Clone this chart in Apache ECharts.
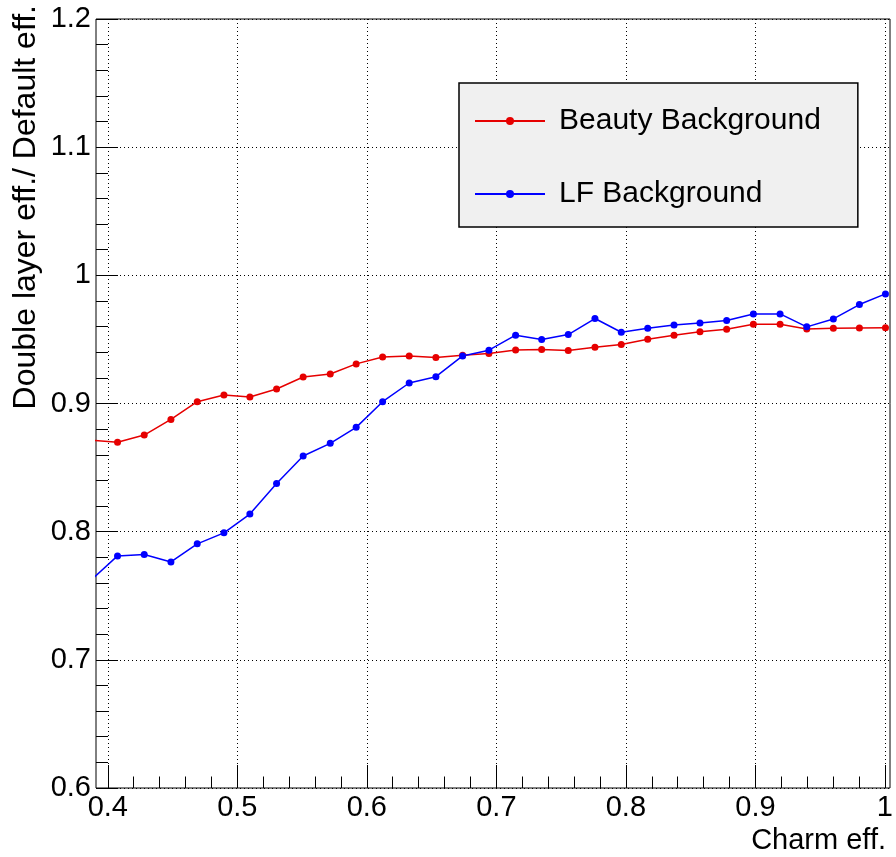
<!DOCTYPE html>
<html>
<head>
<meta charset="utf-8">
<title>Double layer efficiency ratio</title>
<script src="https://cdn.jsdelivr.net/npm/echarts@6/dist/echarts.min.js"></script>
<style>
  html, body { margin: 0; padding: 0; background: #fff; }
  #chart { width: 896px; height: 857px; }
</style>
</head>
<body>
<div id="chart"></div>
<script>
// Charm efficiency working points (first point lies just left of the frame)
const charmEff = [0.3870, 0.4076, 0.4282, 0.4488, 0.4691, 0.4897, 0.5097, 0.5303, 0.5508, 0.5717,
  0.5917, 0.6121, 0.6326, 0.6532, 0.6738, 0.6941, 0.7147, 0.7348, 0.7553, 0.7759,
  0.7962, 0.8166, 0.8369, 0.8569, 0.8775, 0.8981, 0.9187, 0.9393, 0.9598, 0.9799, 1.0000];

// Ratio of double-layer to default efficiency, beauty background
const beautyRatio = [0.8713, 0.8697, 0.8754, 0.8876, 0.9014, 0.9066, 0.9051, 0.9113, 0.9207, 0.9230,
  0.9309, 0.9363, 0.9371, 0.9358, 0.9377, 0.9390, 0.9418, 0.9421, 0.9413, 0.9439,
  0.9460, 0.9502, 0.9533, 0.9559, 0.9580, 0.9619, 0.9619, 0.9582, 0.9587, 0.9590, 0.9592];

// Ratio of double-layer to default efficiency, light-flavour background
const lfRatio = [0.7620, 0.7811, 0.7822, 0.7764, 0.7905, 0.7991, 0.8137, 0.8376, 0.8590, 0.8689,
  0.8814, 0.9014, 0.9160, 0.9209, 0.9371, 0.9416, 0.9533, 0.9499, 0.9538, 0.9663,
  0.9556, 0.9587, 0.9613, 0.9629, 0.9647, 0.9699, 0.9699, 0.9598, 0.9660, 0.9772, 0.9855];

const seriesNames = ['Beauty Background', 'LF Background'];
const seriesColors = ['#e60000', '#0000ff'];

const xTicks = { min: 0.4, max: 1.0, step: 0.1 };
const yTicks = { min: 0.6, max: 1.2, step: 0.1 };
const xTitle = 'Charm eff.';
const yTitle = 'Double layer eff./ Default eff.';

const FONT = '"Liberation Sans", Arial, Helvetica, sans-serif';
const dotted = { color: '#000', width: 1, type: [1, 3] };

function pairs(xs, ys) { return xs.map((x, i) => [x, ys[i]]); }
// integers are written without decimals (e.g. "1"), others with one decimal
function tickText(v) { return Math.abs(v - Math.round(v)) < 1e-9 ? String(Math.round(v)) : v.toFixed(1); }

const chart = echarts.init(document.getElementById('chart'), null, { renderer: 'canvas' });

chart.setOption({
  backgroundColor: '#fff',
  animation: false,
  grid: [
    // frame holding the data
    { left: 96, top: 19, width: 794, height: 769, show: true, borderColor: '#000', borderWidth: 1, backgroundColor: 'transparent', containLabel: false },
    // tick frame for the x axis (0.4 .. 1.0)
    { left: 107.8, top: 19, width: 777.7, height: 769, show: false, containLabel: false }
  ],
  xAxis: [
    { gridIndex: 0, type: 'value', min: 0.391, max: 1.0035, show: false },
    {
      gridIndex: 1, type: 'value', min: xTicks.min, max: xTicks.max, interval: xTicks.step,
      axisLine: { show: false },
      axisTick: { show: true, inside: true, length: 23, lineStyle: { color: '#000', width: 1 } },
      minorTick: { show: true, splitNumber: 5, length: 11.5, lineStyle: { color: '#000', width: 1 } },
      splitLine: { show: true, lineStyle: dotted },
      axisLabel: { show: true, margin: 5, color: '#000', fontFamily: FONT, fontSize: 29, formatter: tickText }
    }
  ],
  yAxis: [
    {
      gridIndex: 0, type: 'value', min: yTicks.min, max: yTicks.max, interval: yTicks.step,
      axisLine: { show: false },
      axisTick: { show: true, inside: true, length: 22, lineStyle: { color: '#000', width: 1 } },
      minorTick: { show: true, splitNumber: 5, length: 12, lineStyle: { color: '#000', width: 1 } },
      splitLine: { show: true, lineStyle: dotted },
      axisLabel: { show: true, margin: 5, color: '#000', fontFamily: FONT, fontSize: 29, formatter: tickText }
    },
    { gridIndex: 1, type: 'value', min: yTicks.min, max: yTicks.max, show: false }
  ],
  legend: {
    orient: 'vertical',
    left: 459, top: 83,
    padding: [23, 37, 18, 15],
    itemGap: 43,
    itemWidth: 70, itemHeight: 10,
    backgroundColor: '#f0f0f0',
    borderColor: '#000', borderWidth: 1.5, borderRadius: 0,
    textStyle: { color: '#000', fontFamily: FONT, fontSize: 30, padding: [0, 0, 0, 9] },
    data: seriesNames
  },
  series: [
    {
      name: seriesNames[0], type: 'line', xAxisIndex: 0, yAxisIndex: 0,
      data: pairs(charmEff, beautyRatio), clip: true,
      symbol: 'circle', symbolSize: 7, showAllSymbol: true,
      lineStyle: { color: seriesColors[0], width: 1.5 },
      itemStyle: { color: seriesColors[0] }
    },
    {
      name: seriesNames[1], type: 'line', xAxisIndex: 0, yAxisIndex: 0,
      data: pairs(charmEff, lfRatio), clip: true,
      symbol: 'circle', symbolSize: 7, showAllSymbol: true,
      lineStyle: { color: seriesColors[1], width: 1.5 },
      itemStyle: { color: seriesColors[1] }
    }
  ],
  graphic: [
    { type: 'text', right: 10, top: 826,
      style: { text: xTitle, fill: '#000', font: '29px ' + FONT } },
    { type: 'text', x: 26, y: 5, rotation: Math.PI / 2,
      style: { text: yTitle, fill: '#000', font: '32px ' + FONT, align: 'right', verticalAlign: 'middle' } }
  ]
});
</script>
</body>
</html>
